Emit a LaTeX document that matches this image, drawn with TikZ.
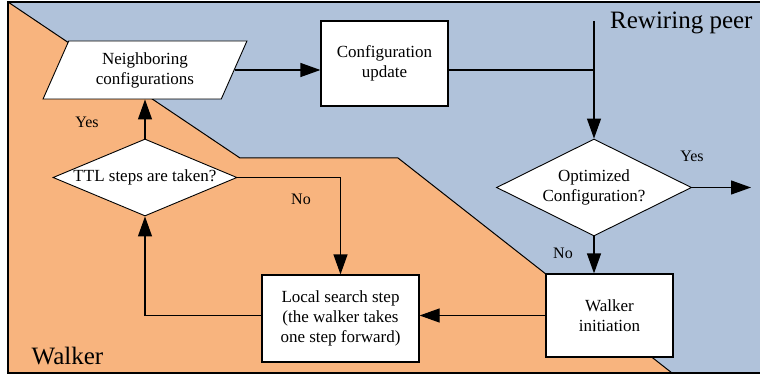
\documentclass[tikz,border=0pt]{standalone}
\usepackage{fontspec}
\setmainfont{Liberation Serif}
\newfontfamily\timesfont{Liberation Serif}
\usetikzlibrary{shapes.geometric,arrows.meta}
\definecolor{peerblue}{HTML}{B0C2DA}
\definecolor{walkerorange}{HTML}{F8B47E}
\tikzset{
  box/.style={draw=black, line width=1.2pt, fill=white, align=center, inner sep=0pt, font=\timesfont\fontsize{17}{20}\selectfont},
  dec/.style={diamond, draw=black, line width=0.9pt, fill=white, align=center, inner sep=0pt, font=\timesfont\fontsize{17}{20}\selectfont},
  para/.style={trapezium, trapezium left angle=65, trapezium right angle=115, trapezium stretches=true, draw=black, line width=0.9pt, fill=white, align=center, inner sep=0pt, font=\timesfont\fontsize{17}{20}\selectfont},
  arr/.style={line width=1.2pt, -{Triangle[length=20pt,width=14pt]}},
  conn/.style={line width=1.2pt},
  lbl/.style={font=\timesfont\fontsize{16}{19}\selectfont},
  region/.style={font=\timesfont\fontsize{25}{28}\selectfont}
}
\begin{document}
\begin{tikzpicture}[x=1pt,y=-1pt]
\useasboundingbox (0,0) rectangle (760,374);
% background regions
\fill[peerblue] (8,2) rectangle (765,373);
\fill[walkerorange] (8,2) -- (240,158) -- (398,158) -- (672,373) -- (8,373) -- cycle;
\draw[line width=1pt] (8,2) -- (240,158) -- (398,158) -- (672,373);
\draw[line width=1.5pt] (765,2) -- (8,2) -- (8,373) -- (765,373);
% nodes
\node[para, minimum width=204pt, minimum height=58pt] (nb) at (145,70) {Neighboring\\configurations};
\node[box, minimum width=127pt, minimum height=85pt] (cu) at (384.5,63.5) {Configuration\\update};
\node[dec, aspect=2.01, minimum width=195pt, minimum height=97pt] (oc) at (594,187.5) {Optimized\\Configuration?};
\node[box, minimum width=127pt, minimum height=83pt] (ws) at (609.5,315.5) {Walker\\initiation};
\node[box, minimum width=157pt, minimum height=87pt] (ls) at (340.5,318.5) {Local search step\\(the walker takes\\one step forward)};
\node[dec, aspect=2.39, minimum width=184pt, minimum height=77pt] (ttl) at (145,177.5) {TTL steps are taken?};
\coordinate (top) at (594,21);
\coordinate (yesend) at (751,187.5);
% connectors
\draw[arr] (nb.east) -- (nb.east -| cu.west);
\draw[conn] (nb.east -| cu.east) -- (nb.east -| oc.north);
\draw[arr] (top) -- (oc.north);
\draw[arr] (oc.east) -- (yesend);
\draw[arr] (oc.south) -- (oc.south |- ws.north);
\draw[arr] (ws.west) -- (ws.west -| ls.east);
\draw[arr] (ws.west -| ls.west) -| (ttl.south);
\draw[arr] (ttl.north) -- (ttl.north |- nb.south);
\draw[arr] (ttl.east) -| (ls.north);
% labels
\node[lbl] (lyes1) at (87,122) {Yes};
\node[lbl] (lno1) at (301,199) {No};
\node[lbl] (lyes2) at (692,156) {Yes};
\node[lbl] (lno2) at (563,253) {No};
\node[region] (lwalker) at (67.5,356) {Walker};
\node[region, anchor=west, inner sep=0pt] (lpeer) at (610,23) {Rewiring peer};
\end{tikzpicture}
\end{document}
